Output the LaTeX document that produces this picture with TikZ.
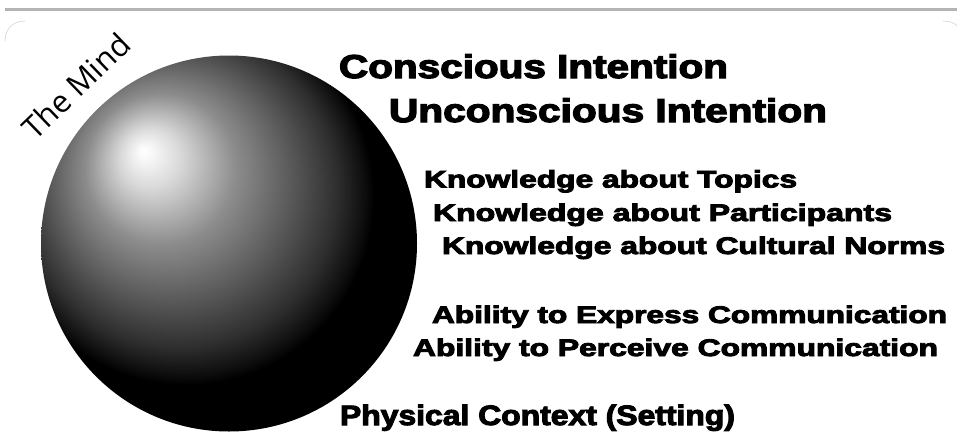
\documentclass[tikz,border=0pt]{standalone}
\usepackage{fontspec}
\usepackage{graphicx}
\newfontfamily\lsans{Liberation Sans Bold}[FakeBold=3.5]
\newfontfamily\osans{Open Sans}
\pgfdeclareradialshading{mindball}{\pgfpoint{-11.4bp}{12.4bp}}{gray(0bp)=(1); gray(1bp)=(0.97); gray(4bp)=(0.85); gray(10bp)=(0.55); gray(16bp)=(0.35); gray(21bp)=(0.18); gray(24bp)=(0.05); gray(25bp)=(0); gray(50bp)=(0)}
\newcommand{\fitlabel}[2]{\resizebox{#1pt}{\height}{#2}}
\definecolor{rulegray}{RGB}{180,180,180}
\definecolor{cornergray}{RGB}{210,210,210}
\tikzset{
  biglbl/.style={anchor=base west, inner sep=0pt, outer sep=0pt, font=\lsans\fontsize{33}{33}\selectfont},
  midlbl/.style={anchor=base west, inner sep=0pt, outer sep=0pt, font=\lsans\fontsize{28}{28}\selectfont},
  smalllbl/.style={anchor=base west, inner sep=0pt, outer sep=0pt, font=\lsans\fontsize{24}{24}\selectfont},
  topline/.style={draw=rulegray, line width=3pt},
  cornerline/.style={draw=cornergray, line width=0.6pt},
  ballstyle/.style={circle, minimum size=376pt, inner sep=0pt, outer sep=0pt, shade, shading=mindball}
}
\begin{document}
\begin{tikzpicture}[x=1pt,y=-1pt]
\useasboundingbox (0,0) rectangle (957,442);
\fill[white] (0,0) rectangle (957,442);
% top rule and faint frame corners
\draw[topline] (5,9.5) -- (957,9.5);
\draw[cornerline] (5,41) .. controls (5,29) and (13,21) .. (25,21);
\draw[cornerline] (943,21) .. controls (950,21) and (955,23) .. (958,27);
% the sphere
\node[ballstyle] (mind) at (229,243.5) {};
\node[rotate=44, inner sep=0pt, font=\osans\fontsize{31}{31}\selectfont] (title) at (76,86) {The Mind};
% labels
\node[biglbl] (ci) at (339,78) {\fitlabel{389}{Conscious Intention}};
\node[biglbl] (ui) at (389,122) {\fitlabel{438}{Unconscious Intention}};
\node[smalllbl] (kt) at (424,187.5) {\fitlabel{373}{Knowledge about Topics}};
\node[smalllbl] (kp) at (433,221) {\fitlabel{459}{Knowledge about Participants}};
\node[smalllbl] (kc) at (442,254) {\fitlabel{503}{Knowledge about Cultural Norms}};
\node[smalllbl] (ae) at (432,323) {\fitlabel{515}{Ability to Express Communication}};
\node[smalllbl] (ap) at (413,356) {\fitlabel{525}{Ability to Perceive Communication}};
\node[midlbl] (pc) at (340,425) {\fitlabel{395}{Physical Context (Setting)}};
\end{tikzpicture}
\end{document}
